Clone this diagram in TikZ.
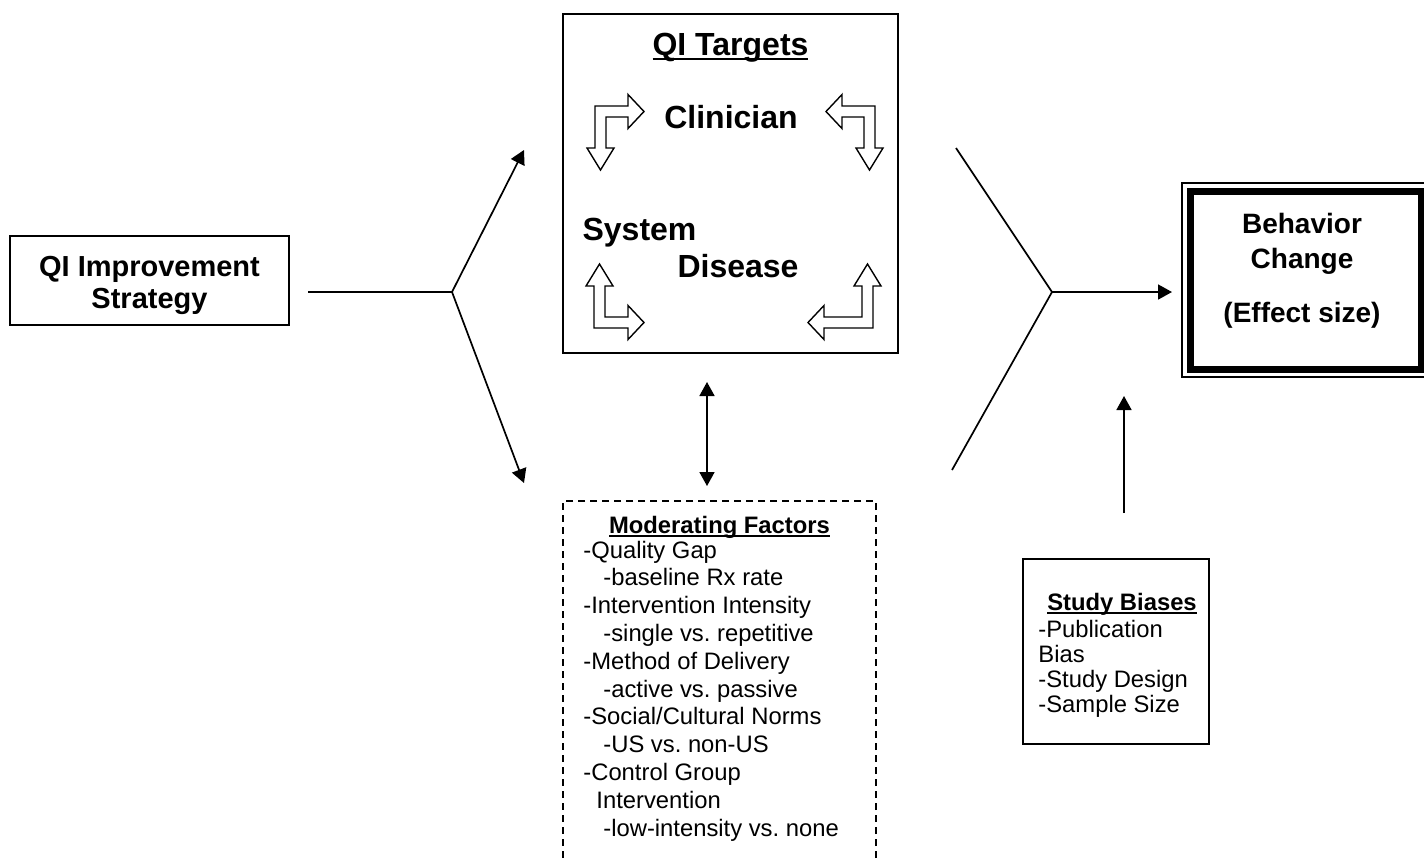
\documentclass[tikz,border=0pt]{standalone}
\usepackage{fontspec}
\setmainfont{Liberation Sans}
\usetikzlibrary{arrows.meta}
\frenchspacing

\newcommand{\undl}[1]{\setbox0\hbox{#1}\leavevmode\rlap{\rule[-0.17em]{\wd0}{0.08em}}\box0}
\newcommand{\bentarrow}[4]{%
  \draw[bentline,shift={#1},xscale=#2,yscale=#3] (0,0) -- (#4,0) -- (#4,-11.5) -- ({#4+16},5.5) -- (#4,22.5) -- (#4,11) -- (11,11) -- (11,42) -- (19,42) -- (5.5,64) -- (-8,42) -- (0,42) -- cycle;}

\tikzset{
  boxed/.style={draw,line width=1pt,inner sep=0pt,outer sep=0pt},
  bigtxt/.style={font=\bfseries\fontsize{16}{19}\selectfont,inner sep=0pt,anchor=base},
  headtxt/.style={font=\bfseries\fontsize{14.5}{16}\selectfont,align=center},
  smalltxt/.style={font=\fontsize{11.9}{13.9}\selectfont,inner sep=0pt,align=left,anchor=base west},
  smallhead/.style={font=\bfseries\fontsize{11.9}{13.9}\selectfont,inner sep=0pt,anchor=base},
  conn/.style={line width=0.85pt},
  arr/.style={conn,-{Triangle[length=7pt,width=7.5pt]}},
  dblarr/.style={conn,{Triangle[length=7pt,width=7.5pt]}-{Triangle[length=7pt,width=7.5pt]}},
  bentline/.style={line width=0.7pt},
}

\begin{document}
\begin{tikzpicture}[x=0.5pt,y=-0.5pt]
        \useasboundingbox (0,0) rectangle (1424,859);

        \node[boxed,headtxt,minimum width=139.5pt,minimum height=44.5pt] (strat) at (149.5,280.5) {\rule{0pt}{14.7pt}QI Improvement\\Strategy};
        \node[boxed,minimum width=167.5pt,minimum height=169.5pt] (tgt) at (730.5,183.5) {};
        \node[boxed,line width=3.5pt,minimum width=115.5pt,minimum height=89pt] (beh) at (1305.5,280) {};
        \node[boxed,dashed,dash pattern=on 3.5pt off 2.5pt,anchor=north,minimum width=156.5pt,minimum height=250pt] (mod) at (719.5,501) {};
        \node[boxed,minimum width=93pt,minimum height=92.5pt] (study) at (1116,651.5) {};
        \draw[line width=0.75pt] ([shift={(-8,-8)}]beh.north west) rectangle ([shift={(8,8)}]beh.south east);

        \node[bigtxt] (tgttitle) at (730.5,55) {\undl{QI Targets}};
        \node[bigtxt] (clin) at (731,128) {Clinician};
        \node[bigtxt] (sys) at (639.5,240) {System};
        \node[bigtxt] (dis) at (738,277) {Disease};
        % base of a multi-line node = last line
        \node[headtxt,font=\bfseries\fontsize{14}{17.5}\selectfont,inner sep=0pt,anchor=base] (behtxt) at (1302,322) {Behavior\\Change\\[9.5pt](Effect size)};

        \node[smallhead] (modtitle) at (719.5,533) {\undl{Moderating Factors}};
        \node[smalltxt] (modlist) at (583,836) {-Quality Gap\\\hspace*{10pt}-baseline Rx rate\\-Intervention Intensity\\\hspace*{10pt}-single vs. repetitive\\-Method of Delivery\\\hspace*{10pt}-active vs. passive\\-Social/Cultural Norms\\\hspace*{10pt}-US vs. non-US\\-Control Group\\\hspace*{6.5pt}Intervention\\\hspace*{10pt}-low-intensity vs. none};
        \node[smallhead] (studytitle) at (1122,610) {\undl{Study Biases}};
        \node[smalltxt,font=\fontsize{11.9}{12.5}\selectfont] (studylist) at (1038,712) {-Publication\\Bias\\-Study Design\\-Sample Size};

        \bentarrow{(595,106)}{1}{1}{33}
        \bentarrow{(875,106)}{-1}{1}{33}
        \bentarrow{(594,328)}{1}{-1}{34}
        \bentarrow{(873,328)}{-1}{-1}{49}

        \coordinate (jl) at (452,292);
        \coordinate (jlup) at (524,150);
        \coordinate (jldn) at (524,483);
        \coordinate (jr) at (1052,292);
        \coordinate (rup) at (956,148);
        \coordinate (rdn) at (952,470);

	\draw[conn,shorten <=9.5pt] (strat.east |- jl) -- (jl);
	\draw[arr] (jl) -- (jlup);
	\draw[arr] (jl) -- (jldn);
	\draw[conn] (rup) -- (jr) -- (rdn);
	\draw[arr,shorten >=9pt] (jr) -- (beh.west |- jr);
	\draw[arr,shorten <=23pt,shorten >=13.5pt] ([xshift=4pt]study.north) -- ([xshift=4pt]study.north |- beh.south);
	\draw[dblarr,shorten <=14.5pt,shorten >=7.5pt] ([xshift=-11.75pt]tgt.south) -- ([xshift=-11.75pt]tgt.south |- mod.north);
\end{tikzpicture}
\end{document}
